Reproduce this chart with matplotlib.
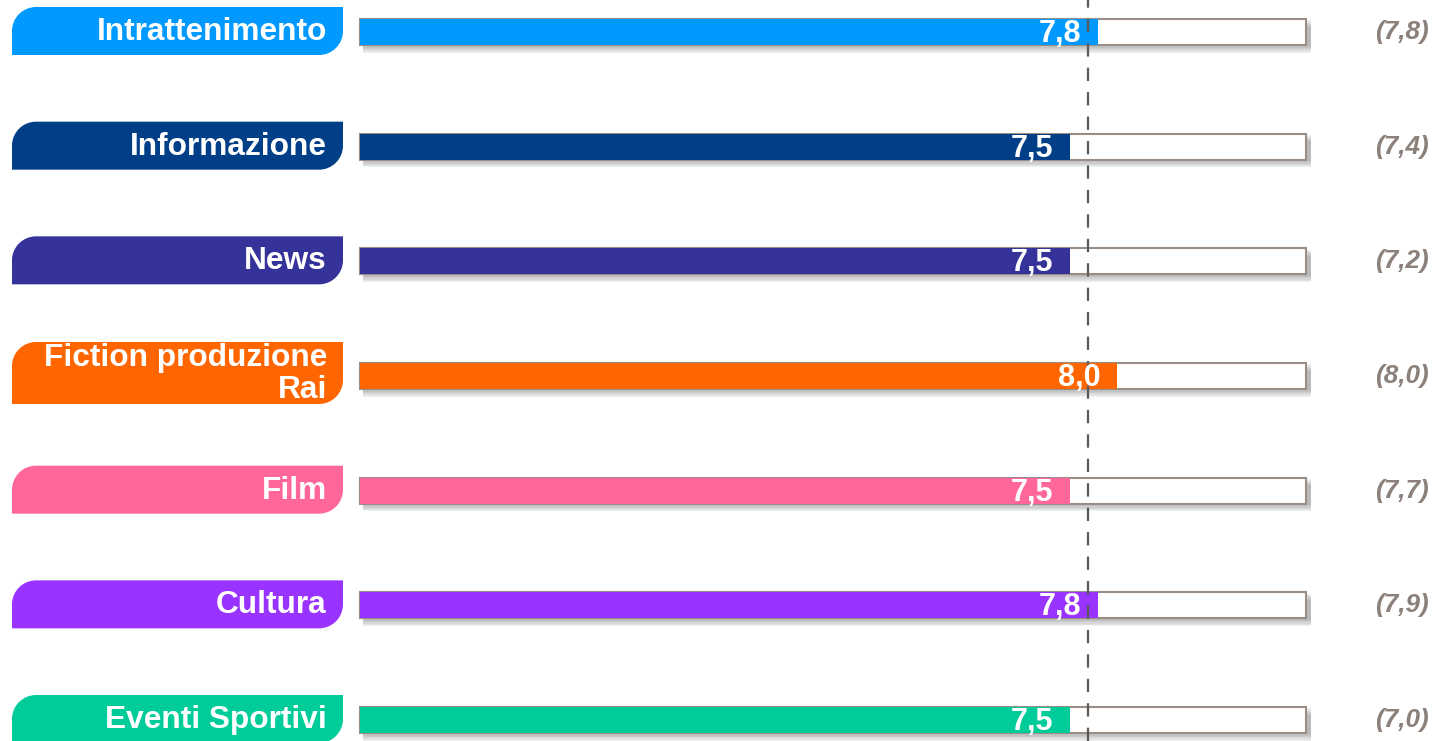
import numpy as np
import matplotlib.pyplot as plt
from matplotlib.path import Path
from matplotlib.patches import PathPatch

categories = ['Intrattenimento', 'Informazione', 'News', 'Fiction produzione\nRai',
              'Film', 'Cultura', 'Eventi Sportivi']
values = [7.8, 7.5, 7.5, 8.0, 7.5, 7.8, 7.5]
previous = [7.8, 7.4, 7.2, 8.0, 7.7, 7.9, 7.0]
colors = ['#0099FF', '#003F87', '#35339A', '#FF6600', '#FF6699', '#9933FF', '#00CC99']
average = 7.7
scale_max = 10

W, H = 1432, 741
PX_X = 94.6      # pixels per unit on x
PX_Y = 114.67    # pixels per category on y


def tab_path(x0, x1, yc, h, rx, ry):
    k = 0.5523
    yt, yb = yc - h / 2, yc + h / 2
    verts = [(x0, yb), (x0, yt + ry),
             (x0, yt + ry - k * ry), (x0 + rx - k * rx, yt), (x0 + rx, yt),
             (x1, yt), (x1, yb - ry),
             (x1, yb - ry + k * ry), (x1 - rx + k * rx, yb), (x1 - rx, yb),
             (x0, yb)]
    codes = [Path.MOVETO, Path.LINETO,
             Path.CURVE4, Path.CURVE4, Path.CURVE4,
             Path.LINETO, Path.LINETO,
             Path.CURVE4, Path.CURVE4, Path.CURVE4,
             Path.CLOSEPOLY]
    return Path(verts, codes)


def main():
    plt.rcParams['font.family'] = ['Liberation Sans', 'DejaVu Sans']
    fig = plt.figure(figsize=(W / 100, H / 100), dpi=100)
    ax = fig.add_axes([0, 0, 1, 1])
    ax.set_xlim(-360 / PX_X, (W - 360) / PX_X)
    ax.set_ylim((H - 32) / PX_Y, -32 / PX_Y)
    ax.axis('off')

    y = np.arange(len(categories))
    bh = 26 / PX_Y

    # soft shadow under each bar
    for i in range(6):
        off = (i + 1) * 1.3
        ax.barh(y + off / PX_Y, scale_max + 2 / PX_X, left=3 / PX_X, height=bh,
                color='#606060', alpha=0.09, lw=0, zorder=1)

    # empty outline bars (full scale)
    ax.barh(y, scale_max, height=bh, color='white', edgecolor='#9a8d86',
            lw=1.5, zorder=2)
    # value bars
    ax.barh(y, values, height=bh, color=colors, lw=0, zorder=3)

    # average dashed line
    ax.axvline(average, color='#5a5a5a', lw=1.6, ls=(0, (6, 5)), zorder=5)

    rx, ry = 24 / PX_X, 24 / PX_Y
    for i, (cat, val, prev, col) in enumerate(zip(categories, values, previous, colors)):
        two_lines = '\n' in cat
        h = 62 / PX_Y if two_lines else 48 / PX_Y
        yc = i - (3 if two_lines else 1) / PX_Y
        p = tab_path(12 / PX_X - 360 / PX_X, -17 / PX_X, yc, h, rx, ry)
        ax.add_patch(PathPatch(p, facecolor=col, edgecolor='none', zorder=3))
        ax.text(-33 / PX_X, yc + 1 / PX_Y, cat, ha='right', va='center', ma='right',
                color='white', fontsize=22.8, fontweight='bold',
                linespacing=1.08, zorder=6)
        ax.annotate(f'{val:.1f}'.replace('.', ','), (val, i + 2 / PX_Y),
                    xytext=(-12, 0), textcoords='offset points',
                    ha='right', va='center', color='white',
                    fontsize=22, fontweight='bold', zorder=6)
        ax.text(1402 / PX_X - 360 / PX_X, i, f'({prev:.1f})'.replace('.', ','),
                ha='center', va='center', color='#8c807a', fontsize=18.8,
                fontweight='bold', fontstyle='italic', zorder=6)

    fig.savefig('out.png', dpi=100)


if __name__ == '__main__':
    main()
